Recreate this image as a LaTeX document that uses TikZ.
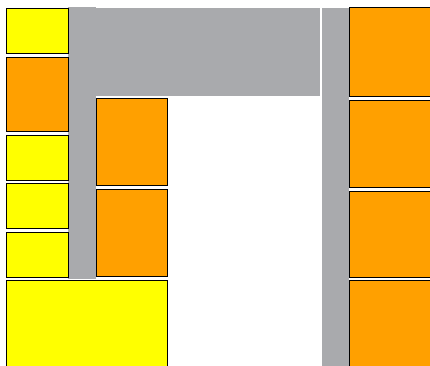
\documentclass[tikz,border=0pt]{standalone}
\definecolor{ylw}{HTML}{FFFF00}
\definecolor{org}{HTML}{FFA000}
\definecolor{gry}{HTML}{A9AAAD}
\tikzset{
  ybox/.style={fill=ylw,draw=black,line width=1pt},
  obox/.style={fill=org,draw=black,line width=1pt},
  gband/.style={fill=gry,draw=none}
}
\begin{document}
\begin{tikzpicture}[x=1pt,y=-1pt]
\useasboundingbox (0,0) rectangle (430,365);
\clip (0,0) rectangle (430,365);
% gray bands
\fill[gband] (68,7) rectangle (96,279);
\fill[gband] (96,8) rectangle (320,96);
\fill[gband] (322,8) rectangle (349,370);
% left column
\draw[ybox] (6,8) rectangle (68.5,53);
\draw[obox] (6,57) rectangle (68.5,131);
\draw[ybox] (6,135) rectangle (68.5,180.5);
\draw[ybox] (6,183.5) rectangle (68.5,228.5);
\draw[ybox] (6,232) rectangle (68.5,277);
\draw[ybox] (6,280) rectangle (167.5,372);
% middle column
\draw[obox] (96.5,98) rectangle (167.5,185.5);
\draw[obox] (96.5,189) rectangle (167.5,276.5);
% right column
\draw[obox] (349.5,7.5) rectangle (440,96.5);
\draw[obox] (349.5,100.5) rectangle (440,187.5);
\draw[obox] (349.5,191) rectangle (440,277);
\draw[obox] (349.5,280.5) rectangle (440,372);
\end{tikzpicture}
\end{document}
